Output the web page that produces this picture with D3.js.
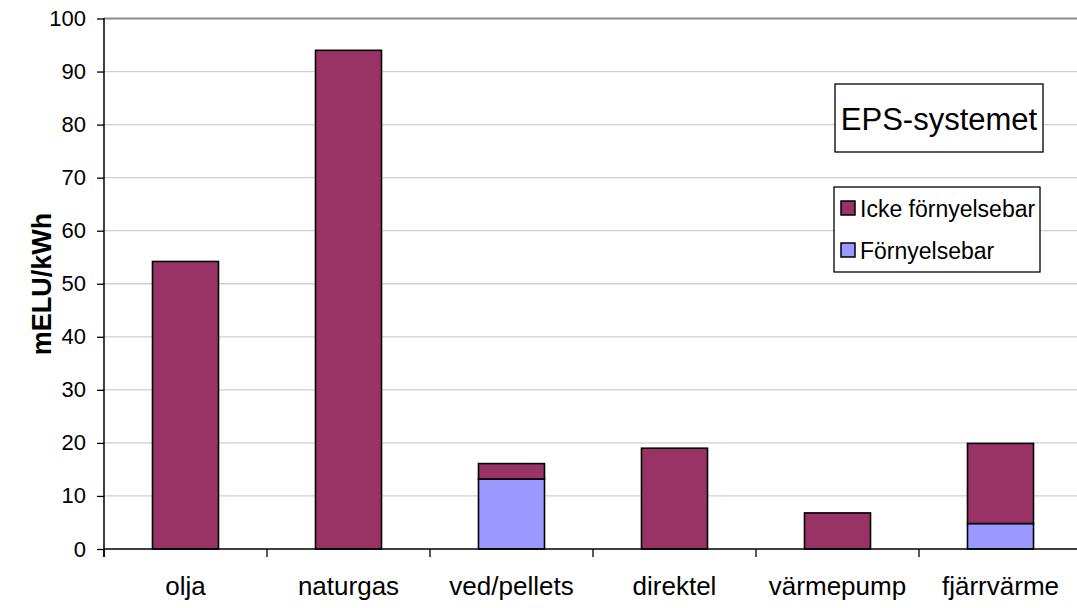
<!DOCTYPE html>
<html><head><meta charset="utf-8">
<script src="https://cdn.jsdelivr.net/npm/d3@7"></script>
<style>
html,body{margin:0;padding:0;background:#fff;}
svg{display:block;font-family:"Liberation Sans",Arial,sans-serif;}
</style></head>
<body>
<svg id="chart" width="1077" height="608"></svg>
<script>
const categories = ["olja","naturgas","ved/pellets","direktel","värmepump","fjärrvärme"];
const fornybar = [0, 0, 13.2, 0, 0, 4.8];
const ickeFornybar = [54.2, 94, 2.9, 19, 6.8, 15.1];
const yTicks = [0,10,20,30,40,50,60,70,80,90,100];
const seriesNames = ["Icke förnyelsebar","Förnyelsebar"];
const seriesColors = {"Förnyelsebar":"#9999ff","Icke förnyelsebar":"#993366"};
const yTitle = "mELU/kWh";
const boxTitle = "EPS-systemet";

(function(){
const svg = d3.select("#chart");
const pL = 104, pR = 1082, pT = 18.5, pB = 549;

const x = d3.scaleBand().domain(categories).range([pL, pR]).paddingInner(0.595).paddingOuter(0.2975);
const y = d3.scaleLinear().domain([0,100]).range([pB, pT]);

// gridlines
svg.append("g").selectAll("line").data(yTicks.filter(d=>d>0)).join("line")
  .attr("x1", pL).attr("x2", pR)
  .attr("y1", d=>y(d)).attr("y2", d=>y(d))
  .attr("stroke", d=> d===100 ? "#8c8c8c" : "#cfcfcf")
  .attr("stroke-width", d=> d===100 ? 2 : 1.3);

// stacked bars
const rows = categories.map((c,i)=>({cat:c, "Förnyelsebar":fornybar[i], "Icke förnyelsebar":ickeFornybar[i]}));
const stack = d3.stack().keys(["Förnyelsebar","Icke förnyelsebar"])(rows);
stack.forEach(s=>{
  svg.append("g").selectAll("rect").data(s.filter(d=>d[1]-d[0]>0)).join("rect")
    .attr("x", d=>x(d.data.cat))
    .attr("width", x.bandwidth())
    .attr("y", d=>y(d[1]))
    .attr("height", d=>y(d[0])-y(d[1]))
    .attr("fill", seriesColors[s.key])
    .attr("stroke", "#000").attr("stroke-width", 1.6);
});

// y axis
const yAxis = d3.axisLeft(y).tickValues(yTicks).tickSize(7).tickPadding(11);
const gy = svg.append("g").attr("transform", `translate(${pL},0)`).call(yAxis);
gy.select(".domain").remove();
gy.selectAll(".tick line").attr("stroke","#000").attr("stroke-width",1.3);
gy.selectAll(".tick text").attr("font-size", 22).attr("fill","#000")
  .attr("font-family","Liberation Sans, Arial, sans-serif");
svg.append("line").attr("x1",pL).attr("x2",pL).attr("y1",pT-0.5).attr("y2",pB+8)
  .attr("stroke","#000").attr("stroke-width",1.5);

// x axis
svg.append("line").attr("x1",pL).attr("x2",pR).attr("y1",pB).attr("y2",pB)
  .attr("stroke","#000").attr("stroke-width",1.5);
const step = x.step();
const bounds = d3.range(categories.length+1).map(i=>pL + i*step);
svg.append("g").selectAll("line").data(bounds).join("line")
  .attr("x1",d=>d).attr("x2",d=>d).attr("y1",pB).attr("y2",pB+8)
  .attr("stroke","#000").attr("stroke-width",1.3);
svg.append("g").selectAll("text").data(categories).join("text")
  .attr("x", d=>x(d)+x.bandwidth()/2).attr("y", 595)
  .attr("text-anchor","middle").attr("font-size",26).attr("fill","#000")
  .text(d=>d);

// y title
svg.append("text").attr("transform",`translate(51,${(212+356)/2}) rotate(-90)`)
  .attr("text-anchor","middle").attr("font-size",27).attr("font-weight","bold")
  .text(yTitle);

// EPS box
svg.append("rect").attr("x",835).attr("y",84).attr("width",208).attr("height",68)
  .attr("fill","#fff").attr("stroke","#000").attr("stroke-width",1.3);
svg.append("text").attr("x",939).attr("y",129.5).attr("text-anchor","middle")
  .attr("font-size",31).text(boxTitle);

// legend
svg.append("rect").attr("x",834).attr("y",187).attr("width",206).attr("height",85)
  .attr("fill","#fff").attr("stroke","#000").attr("stroke-width",1.3);
const lg = svg.append("g").selectAll("g").data(seriesNames).join("g")
  .attr("transform",(d,i)=>`translate(0,${i*42})`);
lg.append("rect").attr("x",841).attr("y",201).attr("width",14).attr("height",14)
  .attr("fill",d=>seriesColors[d]).attr("stroke","#000").attr("stroke-width",1.5);
lg.append("text").attr("x",860).attr("y",216.5).attr("font-size",23).text(d=>d);
})();
</script>
</body></html>
